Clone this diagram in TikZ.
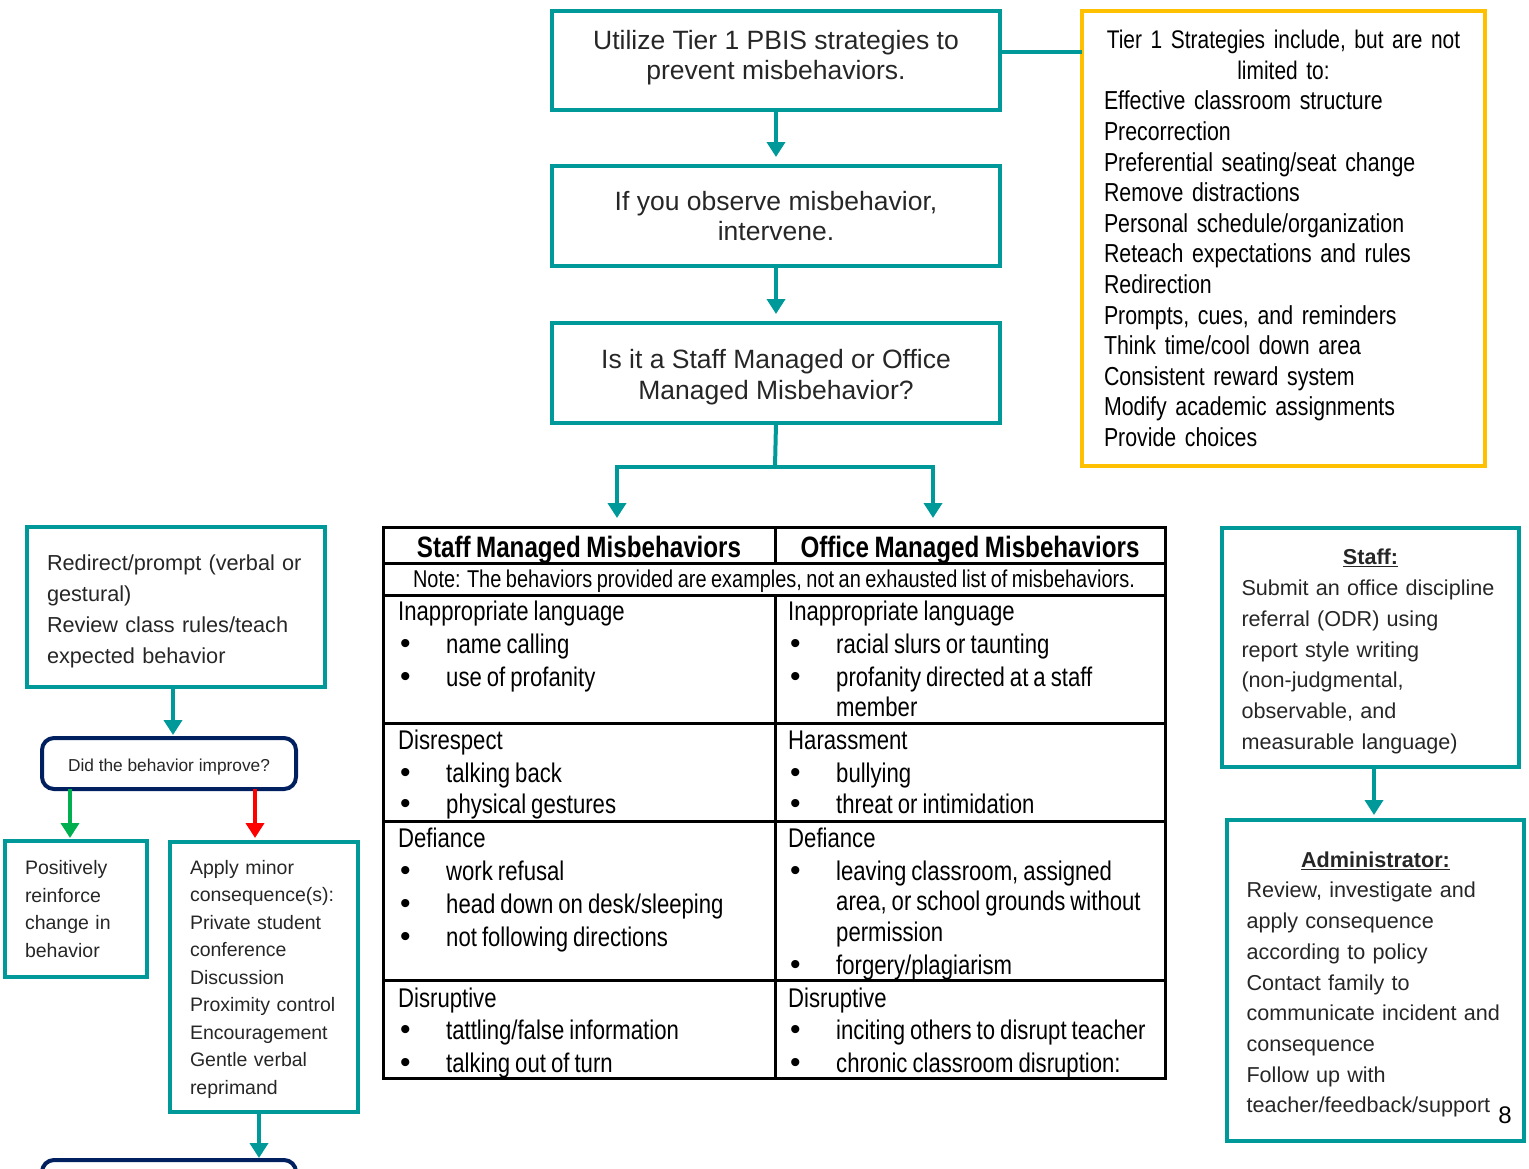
\documentclass[tikz,border=0pt]{standalone}
\usepackage{fontspec}
\setmainfont{Liberation Sans}
\newfontfamily\nar[FakeStretch=0.82,WordSpace=0.82]{Liberation Sans}
\usetikzlibrary{arrows.meta,calc}
\definecolor{tealc}{RGB}{0,153,153}
\definecolor{navyc}{RGB}{0,32,96}
\definecolor{goldc}{RGB}{255,192,0}
\definecolor{greenc}{RGB}{0,176,80}
\definecolor{redc}{RGB}{255,0,0}
\definecolor{txt}{RGB}{38,38,38}
\newcommand\fbig{\fontsize{26.5}{30.5}\selectfont}
\newcommand\fred{\fontsize{21.7}{31}\selectfont}
\newcommand\fsmall{\fontsize{19.5}{27.5}\selectfont}
\newcommand\fdec{\fontsize{17.3}{20}\selectfont}
\newcommand\fright{\fontsize{21.6}{30.7}\selectfont}
\newcommand\ftier{\nar\fontsize{26}{30.6}\selectfont}
\newcommand\ftierhd{\nar\fontsize{25.5}{30.6}\selectfont}
\newcommand\ftab{\nar\fontsize{27}{30.6}\selectfont}
\newcommand\fhead{\nar\bfseries\fontsize{29.5}{32}\selectfont}
\newcommand\fnote{\nar\fontsize{24.3}{26}\selectfont}
\newcommand\bl[1]{\makebox[48pt][l]{\hspace{2pt}{\rmfamily\fontsize{30}{30}\selectfont\textbullet}}#1}
\newcommand\cont[1]{\hspace*{48pt}#1}
\begin{document}
\begin{tikzpicture}[x=1pt,y=-1pt,
  tbox/.style={draw=tealc, line width=4pt, inner sep=0pt, outer sep=0pt, text=txt},
  gbox/.style={draw=goldc, line width=4pt, inner sep=0pt, outer sep=0pt, text=black},
  nbox/.style={draw=navyc, line width=4pt, rounded corners=12pt, inner sep=0pt, outer sep=0pt, text=txt},
  cellbox/.style={draw=black, line width=3pt, anchor=north west, inner sep=0pt, outer sep=0pt, text=black},
  celltxt/.style={anchor=base west, inner sep=0pt, font=\ftab, text=black},
  tline/.style={draw=tealc, line width=4pt},
  tarrow/.style={draw=tealc, line width=4.5pt, -{Triangle[width=18pt,length=15pt]}},
  garrow/.style={draw=greenc, line width=4.5pt, -{Triangle[width=18pt,length=15pt]}},
  rarrow/.style={draw=redc, line width=4.5pt, -{Triangle[width=18pt,length=15pt]}}]
\useasboundingbox (0,0) rectangle (1529,1168);
\clip (0,0) rectangle (1529,1168);

% central flow
\node[tbox, minimum width=448pt, minimum height=99pt, align=center, font=\fbig, text depth=11pt] (A) at (776,60.5)
  {Utilize Tier 1 PBIS strategies to\\prevent misbehaviors.};
\node[tbox, minimum width=448pt, minimum height=100pt, align=center, font=\fbig] (B) at (776,216)
  {If you observe misbehavior,\\intervene.};
\node[tbox, minimum width=448pt, minimum height=100pt, align=center, font=\fbig, text height=57.9pt] (C) at (776,373)
  {Is it a Staff Managed or Office\\Managed Misbehavior?};

% tier 1 box
\node[gbox, minimum width=403pt, minimum height=455pt, text width=359pt, align=left, font=\ftier] (T) at (1283.5,238.5)
  {\makebox[359pt]{\ftierhd Tier 1 Strategies include, but are not}\\
   \makebox[359pt]{\ftierhd limited to:}\\
   Effective classroom structure\\
   Precorrection\\
   Preferential seating/seat change\\
   Remove distractions\\
   Personal schedule/organization\\
   Reteach expectations and rules\\
   Redirection\\
   Prompts, cues, and reminders\\
   Think time/cool down area\\
   Consistent reward system\\
   Modify academic assignments\\
   Provide choices};

\draw[tline] (A.east |- 0,52) -- (T.west |- 0,52);
\draw[tarrow] (A.south) -- ([yshift=9pt]B.north);
\draw[tarrow] (B.south) -- ([yshift=9pt]C.north);

% table
\node[cellbox, minimum width=392pt, minimum height=36pt, font=\fhead, text height=25pt, text depth=0pt] (h1) at (383,527) {Staff Managed Misbehaviors};
\node[cellbox, minimum width=390pt, minimum height=36pt, font=\fhead, text height=25pt, text depth=0pt] (h2) at (775,527) {Office Managed Misbehaviors};
\node[cellbox, minimum width=782pt, minimum height=32pt, font=\fnote, text depth=0pt] (nt) at (383,563)
  {Note: The behaviors provided are examples, not an exhausted list of misbehaviors.};
\node[cellbox, minimum width=392pt, minimum height=128pt] (r1a) at (383,595) {};
\node[cellbox, minimum width=390pt, minimum height=128pt] (r1b) at (775,595) {};
\node[cellbox, minimum width=392pt, minimum height=98pt] (r2a) at (383,723) {};
\node[cellbox, minimum width=390pt, minimum height=98pt] (r2b) at (775,723) {};
\node[cellbox, minimum width=392pt, minimum height=159pt] (r3a) at (383,821) {};
\node[cellbox, minimum width=390pt, minimum height=159pt] (r3b) at (775,821) {};
\node[cellbox, minimum width=392pt, minimum height=98pt] (r4a) at (383,980) {};
\node[cellbox, minimum width=390pt, minimum height=98pt] (r4b) at (775,980) {};

\node[celltxt] (t1a) at (398,620) {\parbox[t]{370pt}{Inappropriate language\\[2.4pt]\bl{name calling}\\[2.4pt]\bl{use of profanity}}};
\node[celltxt] (t1b) at (788,620) {\parbox[t]{370pt}{Inappropriate language\\[2.4pt]\bl{racial slurs or taunting}\\[2.4pt]\bl{profanity directed at a staff}\\\cont{member}}};
\node[celltxt] (t2a) at (398,749) {\parbox[t]{370pt}{Disrespect\\[2.4pt]\bl{talking back}\\[1pt]\bl{physical gestures}}};
\node[celltxt] (t2b) at (788,749) {\parbox[t]{370pt}{Harassment\\[2.4pt]\bl{bullying}\\[1pt]\bl{threat or intimidation}}};
\node[celltxt] (t3a) at (398,847) {\parbox[t]{370pt}{Defiance\\[2.4pt]\bl{work refusal}\\[2.4pt]\bl{head down on desk/sleeping}\\[2.4pt]\bl{not following directions}}};
\node[celltxt] (t3b) at (788,847) {\parbox[t]{370pt}{Defiance\\[2.4pt]\bl{leaving classroom, assigned}\\\cont{area, or school grounds without}\\\cont{permission}\\[2.4pt]\bl{forgery/plagiarism}}};
\node[celltxt] (t4a) at (398,1007) {\parbox[t]{370pt}{Disruptive\\[1.5pt]\bl{tattling/false information}\\[2.4pt]\bl{talking out of turn}}};
\node[celltxt] (t4b) at (788,1007) {\parbox[t]{370pt}{Disruptive\\[1.5pt]\bl{inciting others to disrupt teacher}\\[2.4pt]\bl{chronic classroom disruption:}}};

\coordinate (sp) at (775,467);
\draw[tline] (C.south) -- (sp);
\draw[tarrow] (sp) -| ($(h1.north)+(38,-9)$);
\draw[tarrow] (sp) -| ($(h2.north)+(-37,-9)$);

% left column
\node[tbox, minimum width=298pt, minimum height=160pt, text width=258pt, align=left, font=\fred, text height=23.5pt] (R) at (176,607)
  {Redirect/prompt (verbal or\\gestural)\\Review class rules/teach\\expected behavior};
\node[nbox, minimum width=254pt, minimum height=51pt, font=\fdec, text height=20pt] (D) at (169,763.5) {Did the behavior improve?};
\node[tbox, minimum width=142pt, minimum height=136pt, text width=102pt, align=left, font=\fsmall] (P) at (76,909)
  {Positively\\reinforce\\change in\\behavior};
\node[tbox, minimum width=188pt, minimum height=270pt, text width=148pt, align=left, font=\fsmall, text height=19pt] (M) at (264,977)
  {Apply minor\\consequence(s):\\Private student\\conference\\Discussion\\Proximity control\\Encouragement\\Gentle verbal\\reprimand};
\node[nbox, minimum width=254pt, minimum height=60pt] (bot) at (169,1190) {};

\draw[tarrow] ([xshift=-3pt]R.south) -- ($([xshift=-3pt]R.south |- D.north)+(0,-3)$);
\draw[garrow] ([xshift=-6pt]P.north |- D.south) -- ([xshift=-6pt,yshift=3pt]P.north);
\draw[rarrow] ([xshift=-9pt]M.north |- D.south) -- ([xshift=-9pt,yshift=4pt]M.north);
\draw[tarrow] ([xshift=-5pt]M.south) -- ($([xshift=-5pt]M.south |- bot.north)+(0,-2)$);

% right column
\node[tbox, minimum width=297pt, minimum height=239pt, text width=258pt, align=left, font=\fright, text height=23.5pt] (S) at (1370.5,647.5)
  {\makebox[258pt]{\underline{\textbf{Staff:}}}\\Submit an office discipline\\referral (ODR) using\\report style writing\\(non-judgmental,\\observable, and\\measurable language)};
\node[tbox, minimum width=297pt, minimum height=321pt, text width=258pt, align=left, font=\fright, text height=23.5pt] (Ad) at (1375.5,980.5)
  {\makebox[258pt]{\underline{\textbf{Administrator:}}}\\Review, investigate and\\apply consequence\\according to policy\\Contact family to\\communicate incident and\\consequence\\Follow up with\\teacher/feedback/support};
\draw[tarrow] ([xshift=-1.5pt]Ad.north |- S.south) -- ([xshift=-1.5pt,yshift=5pt]Ad.north);

\node[inner sep=0pt, font=\fontsize{24}{24}\selectfont, text=black] (pg) at (1505,1115) {8};
\end{tikzpicture}
\end{document}
